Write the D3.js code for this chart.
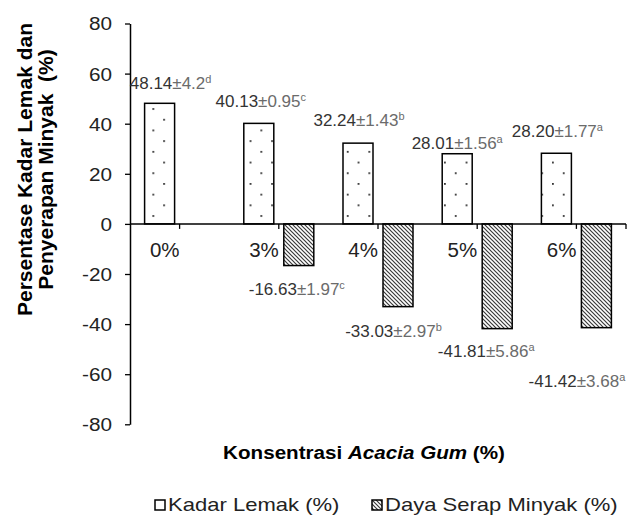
<!DOCTYPE html>
<html>
<head>
<meta charset="utf-8">
<script src="https://cdn.jsdelivr.net/npm/d3@7"></script>
<style>
  body { margin: 0; background: #fff; }
  text { font-family: "Liberation Sans", Arial, sans-serif; }
</style>
</head>
<body>
<div id="chart"></div>
<script>
// data
const categories = ["0%", "3%", "4%", "5%", "6%"]
const kadarLemak = [48.14, 40.13, 32.24, 28.01, 28.20]
const kadarLemakSD = ["4.2", "0.95", "1.43", "1.56", "1.77"]
const kadarLemakNotasi = ["d", "c", "b", "a", "a"]
const dayaSerap = [null, -16.63, -33.03, -41.81, -41.42]
const dayaSerapSD = [null, "1.97", "2.97", "5.86", "3.68"]
const dayaSerapNotasi = [null, "c", "b", "a", "a"]
const yTicks = [-80, -60, -40, -20, 0, 20, 40, 60, 80]
const seriesNames = ["Kadar Lemak (%)", "Daya Serap Minyak (%)"]

// label nudges (layout only)
const klNudge = [[11, -14], [2, -16.4], [1, -17.4], [0, -5], [1, -16]]
const dsNudge = [null, [-2, 29.5], [-4.5, 30], [-11, 28], [-19.5, 59]]

const width = 641
const height = 516
const fmt = v => v.toFixed(2)   // keeps a plain hyphen for negatives

const svg = d3.select("#chart")
  .append("svg")
    .attr("width", width)
    .attr("height", height)

const defs = svg.append("defs")

// dotted pattern for Kadar Lemak
const dots = defs.append("pattern")
    .attr("id", "dots")
    .attr("patternUnits", "userSpaceOnUse")
    .attr("x", 153.3 - 0.9)
    .attr("y", 109 - 0.9)
    .attr("width", 21.6)
    .attr("height", 21.4)
dots.append("rect").attr("width", 21.6).attr("height", 21.4).attr("fill", "#fff")
dots.append("rect").attr("x", 0).attr("y", 0).attr("width", 1.8).attr("height", 1.8).attr("fill", "#333")
dots.append("rect").attr("x", 10.8).attr("y", 10.7).attr("width", 1.8).attr("height", 1.8).attr("fill", "#333")

// diagonal hatch for Daya Serap Minyak
const hatch = defs.append("pattern")
    .attr("id", "hatch")
    .attr("patternUnits", "userSpaceOnUse")
    .attr("width", 4)
    .attr("height", 4)
hatch.append("rect").attr("width", 4).attr("height", 4).attr("fill", "#fff")
hatch.append("path")
    .attr("d", "M-1,-1 L5,5 M-1,3 L1,5 M3,-1 L5,1")
    .attr("stroke", "#3a3a3a")
    .attr("stroke-width", 1.2)

// scales
const x = d3.scaleBand()
    .domain(categories)
    .range([130, 626])

const xSub = d3.scaleBand()
    .domain(["kl", "ds"])
    .range([-35, 35])
    .paddingInner(0.25)

const y = d3.scaleLinear()
    .domain([-80, 80])
    .range([424.3, 23.5])

const center = c => x(c) + x.bandwidth() / 2

// y axis
const tickStretch = 1.12
const yAxis = svg.append("g")
    .attr("transform", "translate(130,0)")
    .call(d3.axisLeft(y)
        .tickValues(yTicks)
        .tickFormat(d => String(d))
        .tickSize(5)
        .tickPadding(13)
        .tickSizeOuter(0))
yAxis.select(".domain").attr("stroke", "#000").attr("stroke-width", 1.5)
yAxis.selectAll(".tick line").attr("stroke", "#000").attr("stroke-width", 1.3)
yAxis.selectAll(".tick text")
    .attr("fill", "#222")
    .attr("x", -18 / tickStretch)
    .attr("transform", `scale(${tickStretch},1)`)
    .style("font-size", "18.5px")
    .style("font-family", "Liberation Sans, Arial, sans-serif")
    .attr("dy", "0.35em")

// bars
const kl = svg.append("g").selectAll("rect")
  .data(categories)
  .join("rect")
    .attr("x", (c) => center(c) + xSub("kl"))
    .attr("width", xSub.bandwidth())
    .attr("y", (c, i) => y(kadarLemak[i]))
    .attr("height", (c, i) => y(0) - y(kadarLemak[i]))
    .attr("fill", "url(#dots)")
    .attr("stroke", "#000")
    .attr("stroke-width", 1.5)

const dsData = categories.filter((c, i) => dayaSerap[i] != null)
const ds = svg.append("g").selectAll("rect")
  .data(dsData)
  .join("rect")
    .attr("x", (c) => center(c) + xSub("ds"))
    .attr("width", xSub.bandwidth())
    .attr("y", y(0))
    .attr("height", (c) => y(dayaSerap[categories.indexOf(c)]) - y(0))
    .attr("fill", "url(#hatch)")
    .attr("stroke", "#000")
    .attr("stroke-width", 1.5)

// x axis line and ticks (drawn after bars)
const xAxis = svg.append("g")
    .attr("transform", `translate(0,${y(0)})`)
xAxis.append("line")
    .attr("x1", 130).attr("x2", 626)
    .attr("stroke", "#000").attr("stroke-width", 1.5)
xAxis.selectAll(".xtick")
  .data(categories.map(center).concat([626]))
  .join("line")
    .attr("class", "xtick")
    .attr("x1", d => d).attr("x2", d => d)
    .attr("y1", 0).attr("y2", 5)
    .attr("stroke", "#000").attr("stroke-width", 1.3)
xAxis.selectAll(".xlab")
  .data(categories)
  .join("text")
    .attr("class", "xlab")
    .attr("x", c => center(c))
    .attr("y", 33)
    .attr("text-anchor", "end")
    .attr("fill", "#222")
    .style("font-size", "20.5px")
    .text(c => c)

// value labels
function valueLabel(g, px, py, mean, sd, note) {
  const t = g.append("text")
      .attr("x", px)
      .attr("y", py)
      .attr("text-anchor", "middle")
      .style("font-size", "17px")
  t.append("tspan").attr("fill", "#333").text(fmt(mean))
  t.append("tspan").attr("fill", "#6b6b6b").text("±" + sd)
  t.append("tspan").attr("fill", "#6b6b6b")
      .attr("dy", -6).style("font-size", "11px").text(note)
}

const labels = svg.append("g")
categories.forEach((c, i) => {
  const bx = center(c) + xSub("kl") + xSub.bandwidth() / 2
  valueLabel(labels, bx + klNudge[i][0], y(kadarLemak[i]) + klNudge[i][1],
    kadarLemak[i], kadarLemakSD[i], kadarLemakNotasi[i])
  if (dayaSerap[i] != null) {
    const dx = center(c) + xSub("ds") + xSub.bandwidth() / 2
    valueLabel(labels, dx + dsNudge[i][0], y(dayaSerap[i]) + dsNudge[i][1],
      dayaSerap[i], dayaSerapSD[i], dayaSerapNotasi[i])
  }
})

// axis titles
const yTitle = svg.append("text")
    .attr("transform", "translate(0,169.5) rotate(-90)")
    .attr("text-anchor", "middle")
    .attr("font-weight", "bold")
    .style("font-size", "21px")
    .style("white-space", "pre")
    .attr("fill", "#000")
yTitle.append("tspan").attr("x", 0).attr("y", 32).text("Persentase Kadar Lemak dan")
yTitle.append("tspan").attr("x", 0).attr("y", 53).text("Penyerapan Minyak  (%)")

const xTitle = svg.append("text")
    .attr("transform", "translate(364,459) scale(1.115,1)")
    .attr("text-anchor", "middle")
    .attr("font-weight", "bold")
    .style("font-size", "18.5px")
    .attr("fill", "#000")
xTitle.append("tspan").text("Konsentrasi ")
xTitle.append("tspan").attr("font-style", "italic").text("Acacia Gum")
xTitle.append("tspan").text(" (%)")

// legend
const legendX = [155, 372]
const legend = svg.append("g")
  .selectAll("g")
  .data(seriesNames)
  .join("g")
    .attr("transform", (d, i) => `translate(${legendX[i]},500)`)
legend.append("rect")
    .attr("width", 10).attr("height", 10)
    .attr("fill", (d, i) => i == 0 ? "#fff" : "url(#hatch)")
    .attr("stroke", "#000")
    .attr("stroke-width", 1.5)
legend.append("text")
    .attr("transform", "translate(13,10.7) scale(1.26,1)")
    .attr("fill", "#222")
    .style("font-size", "17.5px")
    .text(d => d)
</script>
</body>
</html>
